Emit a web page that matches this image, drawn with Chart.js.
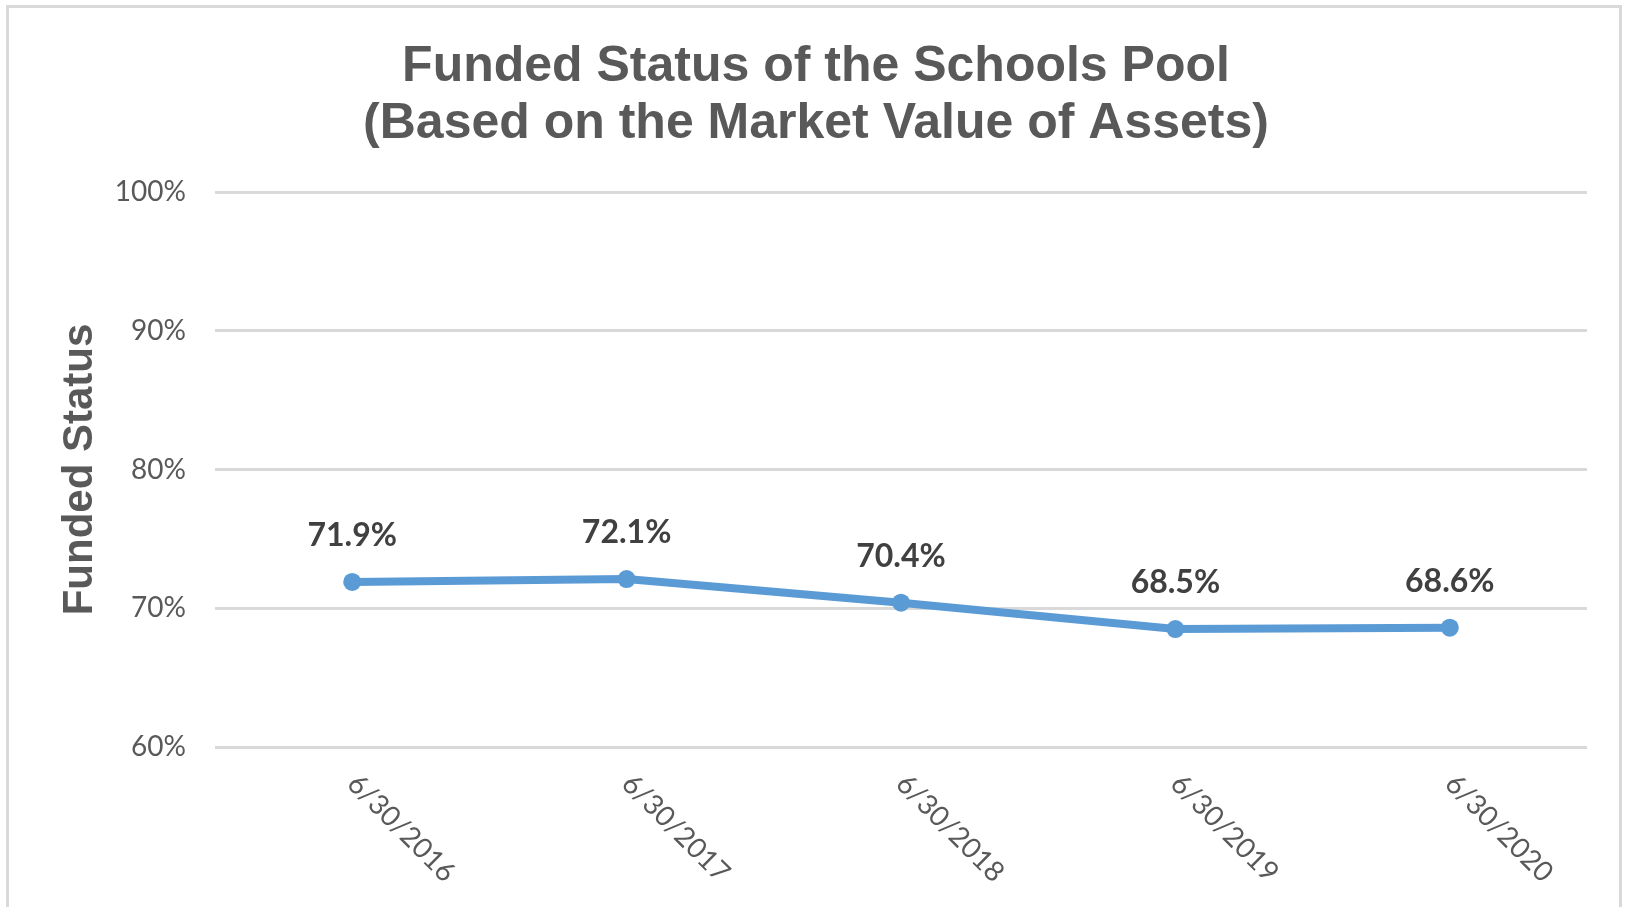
<!DOCTYPE html>
<html>
<head>
<meta charset="utf-8">
<script src="https://cdn.jsdelivr.net/npm/chart.js@4/dist/chart.umd.min.js"></script>
<style>
    html, body { margin: 0; padding: 0; background: #fff; }
    #frame {
        position: absolute; left: 6px; top: 5px; width: 1616px; height: 920px;
        border: 3px solid #d9d9d9; box-sizing: border-box;
    }
    #wrap { position: absolute; left: 0; top: 0; width: 1627px; height: 907px; }
</style>
</head>
<body>
<div id="frame"></div>
<div id="wrap"><canvas id="funded"></canvas></div>
<script>
const categories = ["6/30/2016", "6/30/2017", "6/30/2018", "6/30/2019", "6/30/2020"];
const fundedStatus = [71.9, 72.1, 70.4, 68.5, 68.6];
const chartTitle = ["Funded Status of the Schools Pool", "(Based on the Market Value of Assets)"];
const yAxisTitle = "Funded Status";

const textGrey = "#595959";

// value labels above each point
const pointLabels = {
    id: 'pointLabels',
    afterDatasetsDraw(chart) {
        const ctx = chart.ctx;
        const meta = chart.getDatasetMeta(0);
        ctx.save();
        ctx.font = "bold 32px Lato";
        ctx.fillStyle = "#404040";
        ctx.textAlign = "center";
        ctx.textBaseline = "middle";
        meta.data.forEach((pt, i) => {
            ctx.fillText(fundedStatus[i].toFixed(1) + "%", pt.x, pt.y - 46);
        });
        ctx.restore();
    }
};

// x labels slanting down to the right, starting at the tick
const slantedTicks = {
    id: 'slantedTicks',
    afterDraw(chart) {
        const ctx = chart.ctx;
        const xs = chart.scales.x;
        ctx.save();
        ctx.font = "28px Lato";
        ctx.fillStyle = textGrey;
        ctx.textAlign = "left";
        ctx.textBaseline = "middle";
        categories.forEach((c, i) => {
            const x = xs.getPixelForTick(i);
            ctx.save();
            ctx.translate(x, chart.chartArea.bottom + 32);
            ctx.rotate(Math.PI / 4);
            ctx.fillText(c, 0, 0);
            ctx.restore();
        });
        ctx.restore();
    }
};

new Chart(document.getElementById('funded'), {
    type: 'line',
    data: {
        labels: categories,
        datasets: [{
            data: fundedStatus,
            borderColor: "#5b9bd5",
            backgroundColor: "#5b9bd5",
            borderWidth: 8,
            pointRadius: 9,
            pointHoverRadius: 9,
            pointBorderWidth: 0,
            tension: 0,
        }]
    },
    options: {
        responsive: true,
        maintainAspectRatio: false,
        animation: false,
        layout: { padding: { left: 45, right: 40, top: 0, bottom: 0 } },
        plugins: {
            legend: { display: false },
            tooltip: { enabled: false },
            title: {
                display: true,
                text: chartTitle,
                color: textGrey,
                font: { family: "Liberation Sans", size: 50, weight: "bold", lineHeight: 1.14 },
                padding: { top: 39, bottom: 39 },
            },
        },
        scales: {
            x: {
                offset: true,
                grid: { display: false },
                border: { display: false },
                ticks: { display: false },
                afterFit(scale) { scale.height = 160; },
            },
            y: {
                min: 60,
                max: 100,
                ticks: {
                    stepSize: 10,
                    padding: 29,
                    color: textGrey,
                    font: { family: "Lato", size: 28 },
                    callback: v => v + "%",
                },
                grid: { color: "#d9d9d9", lineWidth: 3, drawTicks: false },
                border: { display: false },
                title: {
                    display: true,
                    text: yAxisTitle,
                    color: textGrey,
                    font: { family: "Liberation Sans", size: 42, weight: "bold", lineHeight: 1.2 },
                    padding: { top: 10, bottom: 0 },
                },
                afterFit(scale) { scale.width = 170; },
            },
        },
    },
    plugins: [pointLabels, slantedTicks],
});
</script>
</body>
</html>
